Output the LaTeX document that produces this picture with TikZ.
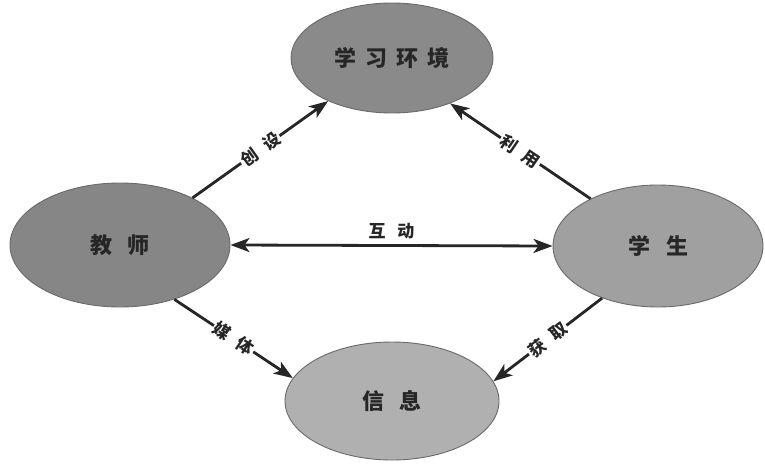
\documentclass[tikz,border=0pt]{standalone}
\usepackage{fontspec}
\newfontfamily\cjk{Noto Sans CJK SC}
\usetikzlibrary{shapes.geometric,arrows.meta}
\definecolor{inkc}{HTML}{262626}
\definecolor{envfill}{HTML}{8A8A8A}
\definecolor{teafill}{HTML}{868686}
\definecolor{stufill}{HTML}{A0A0A0}
\definecolor{inffill}{HTML}{B0B0B0}
\definecolor{rimc}{HTML}{6A6A6A}
\tikzset{
  bubble/.style={ellipse, draw=rimc, line width=0.9pt, inner sep=0pt,
    font=\cjk\fontsize{22}{22}\selectfont\bfseries, text=inkc},
  tip/.tip={Stealth[length=19pt,width=14pt,inset=5pt]},
  link/.style={draw=inkc, line width=2.8pt, -tip},
  lbl/.style={fill=white, inner sep=1.5pt, text=inkc,
    font=\cjk\fontsize{17}{17}\selectfont\bfseries}
}
\begin{document}
\begin{tikzpicture}[x=1pt,y=-1pt]
\useasboundingbox (0,0) rectangle (765,463);
\fill[white] (0,0) rectangle (765,463);
\node[bubble, fill=envfill, minimum width=202pt, minimum height=110pt] (env) at (392,58) {学\kern9pt 习\kern9pt 环\kern9pt 境};
\node[bubble, fill=teafill, minimum width=220pt, minimum height=124pt] (tea) at (120,245) {教\kern16pt 师};
\node[bubble, fill=stufill, minimum width=210pt, minimum height=122pt] (stu) at (658,246) {学\kern16pt 生};
\node[bubble, fill=inffill, minimum width=214pt, minimum height=118pt] (inf) at (392,401) {信\kern16pt 息};

\draw[link] (tea.33) -- node[lbl, sloped] {创\kern10pt 设} (env.214);
\draw[link] (stu.145) -- node[lbl, sloped] {利\kern10pt 用} (env.322);
\draw[link, tip-tip] (tea.east) -- (stu.west)
  node[midway, above=4pt, lbl, fill=none] (hd) {互\kern12pt 动};
\draw[link] (tea.315) -- node[lbl, sloped] {媒\kern10pt 体} (inf.167);
\draw[link] (stu.223) -- node[lbl, sloped] {获\kern10pt 取} (inf.11);
\end{tikzpicture}
\end{document}
